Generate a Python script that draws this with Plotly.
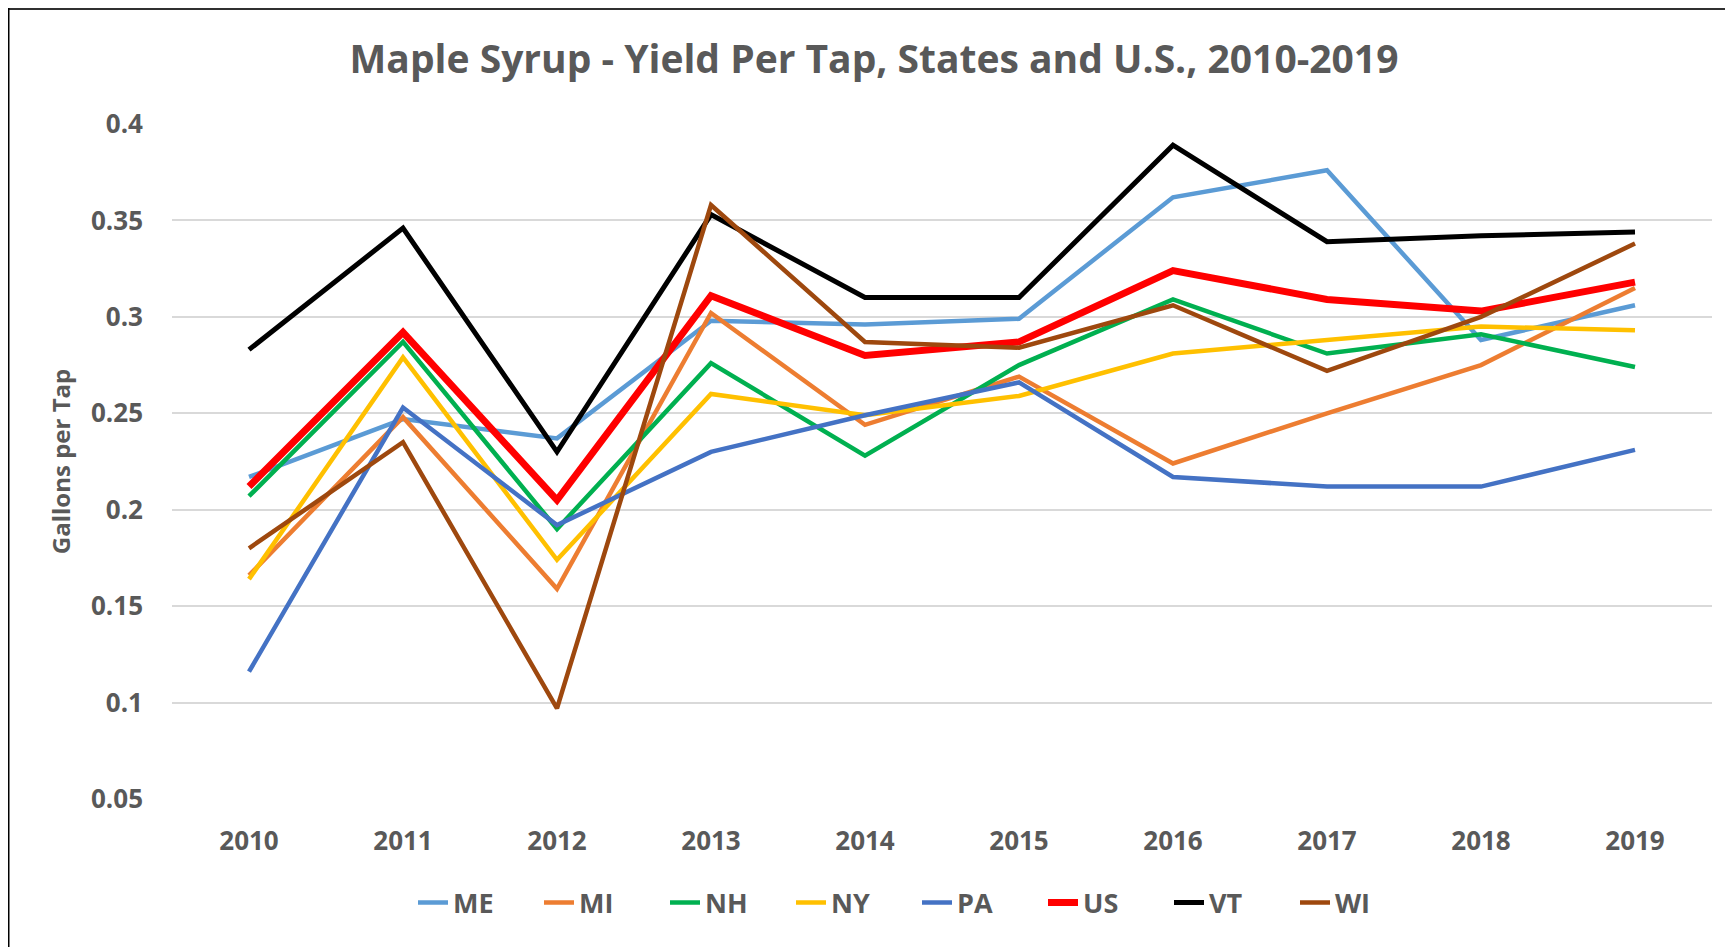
import plotly.graph_objects as go

years = ["2010", "2011", "2012", "2013", "2014", "2015", "2016", "2017", "2018", "2019"]

ME = [0.217, 0.247, 0.237, 0.298, 0.296, 0.299, 0.362, 0.376, 0.288, 0.306]
MI = [0.166, 0.248, 0.159, 0.302, 0.244, 0.269, 0.224, 0.250, 0.275, 0.315]
NH = [0.207, 0.287, 0.190, 0.276, 0.228, 0.275, 0.309, 0.281, 0.291, 0.274]
NY = [0.164, 0.279, 0.174, 0.260, 0.249, 0.259, 0.281, 0.288, 0.295, 0.293]
PA = [0.116, 0.253, 0.192, 0.230, 0.249, 0.266, 0.217, 0.212, 0.212, 0.231]
US = [0.212, 0.292, 0.205, 0.311, 0.280, 0.287, 0.324, 0.309, 0.303, 0.318]
VT = [0.283, 0.346, 0.230, 0.353, 0.310, 0.310, 0.389, 0.339, 0.342, 0.344]
WI = [0.180, 0.235, 0.097, 0.358, 0.287, 0.284, 0.306, 0.272, 0.300, 0.338]

y_ticks = [0.05, 0.1, 0.15, 0.2, 0.25, 0.3, 0.35, 0.4]
y_tick_labels = ["0.05", "0.1", "0.15", "0.2", "0.25", "0.3", "0.35", "0.4"]

series = [
    ("ME", ME, "#5B9BD5", 4.5),
    ("MI", MI, "#ED7D31", 4.5),
    ("NH", NH, "#00B050", 4.5),
    ("NY", NY, "#FFC000", 4.5),
    ("PA", PA, "#4472C4", 4.5),
    ("US", US, "#FF0000", 7),
    ("VT", VT, "#000000", 5),
    ("WI", WI, "#9E480E", 4.5),
]

FONT = "'Open Sans', Lato, sans-serif"
GREY = "#595959"

# page body has an 8px margin, so the figure is sized to fit the window
W, H = 1725, 939
L, R, T, B = 164, 21, 116, 148
pw, ph = W - L - R, H - T - B

fig = go.Figure()
xs = list(range(len(years)))
for name, vals, color, width in series:
    fig.add_trace(go.Scatter(
        x=xs, y=vals, name=f"<b>{name}</b>", mode="lines",
        line=dict(color=color, width=width),
    ))

fig.update_layout(
    width=W, height=H,
    margin=dict(l=L, r=R, t=T, b=B, autoexpand=False),
    paper_bgcolor="white", plot_bgcolor="white",
    font=dict(family=FONT, color=GREY),
    title=dict(
        text="<b>Maple Syrup - Yield Per Tap, States and U.S., 2010-2019</b>",
        x=866 / W, xref="container", xanchor="center",
        y=1 - 51 / H, yref="container", yanchor="middle",
        font=dict(family=FONT, size=39, color=GREY),
    ),
    xaxis=dict(
        range=[-0.5, len(years) - 0.5],
        tickmode="array", tickvals=xs, ticktext=[f"<b>{y}</b>" for y in years],
        tickfont=dict(family=FONT, size=26, color=GREY),
        showgrid=False, zeroline=False, showline=False,
        ticks="", ticklabelstandoff=24,
    ),
    yaxis=dict(
        range=[0.05, 0.4],
        tickmode="array", tickvals=y_ticks, ticktext=[f"<b>{t}</b>" for t in y_tick_labels],
        tickfont=dict(family=FONT, size=26, color=GREY),
        showgrid=True, gridcolor="#D9D9D9", gridwidth=1.5,
        zeroline=False, showline=False, ticks="", ticklabelstandoff=28,
        title=dict(text="<b>Gallons per Tap</b>", font=dict(family=FONT, size=24, color=GREY), standoff=13),
    ),
    legend=dict(
        orientation="h", x=(405 - L) / pw, xanchor="left",
        y=(H - B - 895) / ph, yanchor="middle",
        font=dict(family=FONT, size=27, color=GREY),
        entrywidth=81, entrywidthmode="pixels",
        bgcolor="rgba(0,0,0,0)",
    ),
    shapes=[
        dict(type="line", xref="paper", yref="paper",
             x0=(-2 - L) / pw, x1=(W + 10 - L) / pw,
             y0=(H - B - 0.5) / ph, y1=(H - B - 0.5) / ph,
             line=dict(color="#303030", width=3)),
        dict(type="line", xref="paper", yref="paper",
             x0=(0.5 - L) / pw, x1=(0.5 - L) / pw,
             y0=(H - B) / ph, y1=(H - B - H - 10) / ph,
             line=dict(color="#000000", width=2)),
    ],
)

fig.write_html("out.html")
